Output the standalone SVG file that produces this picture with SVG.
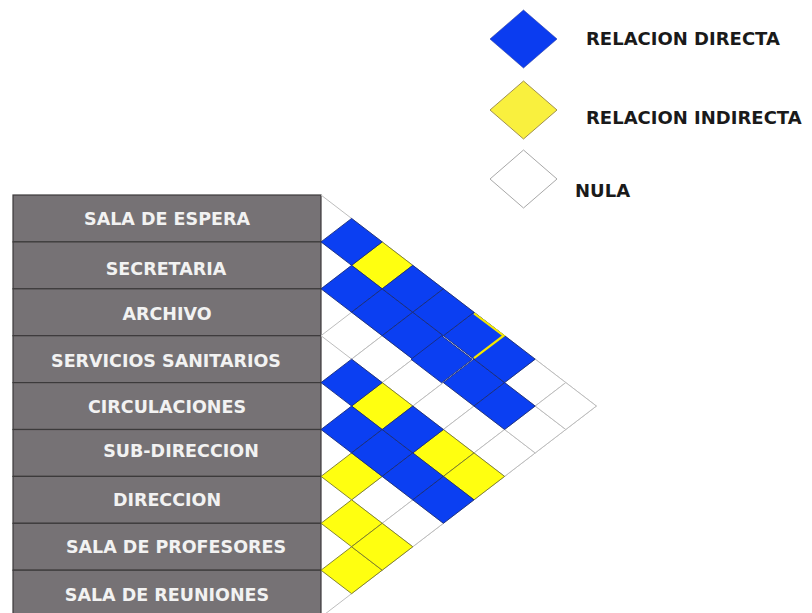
<svg xmlns="http://www.w3.org/2000/svg" xmlns:xlink="http://www.w3.org/1999/xlink" width="812" height="613" viewBox="0 0 812 613">
<style>
.box{fill:#767275;stroke:#3c3a3b;stroke-width:1.2}
.lbl{font-family:"DejaVu Sans","Liberation Sans",sans-serif;font-weight:bold;font-size:17.5px;fill:#f2f2f2;text-anchor:middle}
.leg{font-family:"DejaVu Sans","Liberation Sans",sans-serif;font-weight:bold;font-size:18px;fill:#1a1a1a}
.b{fill:#0b3ff2;stroke:#1a2c7a;stroke-width:0.9}
.y{fill:#ffff10;stroke:#77772a;stroke-width:0.9}
.w{fill:#ffffff;stroke:#bdbdbd;stroke-width:1}
.grid{fill:none;stroke:#bdbdbd;stroke-width:1}
</style>
<defs>
<path id="d" d="M-30.6 0 L0 -23.45 L30.6 0 L0 23.45Z"/>
</defs>
<rect width="812" height="613" fill="#ffffff"/>

<g id="legend">
<g id="legend-directa">
<path d="M490 39 L523.5 10 L557 39 L523.5 68Z" fill="#0b3cf0" stroke="#2a3ca0" stroke-width="0.6"/>
<text class="leg" x="586" y="45">RELACION DIRECTA</text>
</g>
<g id="legend-indirecta">
<path d="M490 110 L523.5 81 L557 110 L523.5 139Z" fill="#f9f03e" stroke="#a09050" stroke-width="1"/>
<text class="leg" x="586" y="124">RELACION INDIRECTA</text>
</g>
<g id="legend-nula">
<path d="M490 179 L523.5 150 L557 179 L523.5 208Z" fill="#ffffff" stroke="#a8a8a8" stroke-width="1"/>
<text class="leg" x="575" y="197">NULA</text>
</g>
</g>

<g id="labels">
<g id="row-sala-espera"><rect class="box" x="13" y="195" width="308" height="46.9"/><text class="lbl" x="167" y="225">SALA DE ESPERA</text></g>
<g id="row-secretaria"><rect class="box" x="13" y="241.9" width="308" height="46.9"/><text class="lbl" x="166" y="274.5">SECRETARIA</text></g>
<g id="row-archivo"><rect class="box" x="13" y="288.8" width="308" height="46.9"/><text class="lbl" x="167" y="320">ARCHIVO</text></g>
<g id="row-servicios"><rect class="box" x="13" y="335.7" width="308" height="46.9"/><text class="lbl" x="166" y="367">SERVICIOS SANITARIOS</text></g>
<g id="row-circulaciones"><rect class="box" x="13" y="382.6" width="308" height="46.9"/><text class="lbl" x="167" y="413">CIRCULACIONES</text></g>
<g id="row-subdireccion"><rect class="box" x="13" y="429.5" width="308" height="46.9"/><text class="lbl" x="181" y="457">SUB-DIRECCION</text></g>
<g id="row-direccion"><rect class="box" x="13" y="476.4" width="308" height="46.9"/><text class="lbl" x="167" y="506">DIRECCION</text></g>
<g id="row-profesores"><rect class="box" x="13" y="523.3" width="308" height="46.9"/><text class="lbl" x="176" y="552.5">SALA DE PROFESORES</text></g>
<g id="row-reuniones"><rect class="box" x="13" y="570.2" width="308" height="46.9"/><text class="lbl" x="167" y="600.5">SALA DE REUNIONES</text></g>
</g>

<g id="matrix">
<polyline class="grid" points="321,195 596.4,406.05 321,617.1"/>
<!-- nula -->
<use href="#d" class="w" x="351.6" y="335.7"/>
<use href="#d" class="w" x="382.2" y="359.15"/>
<use href="#d" class="w" x="382.2" y="499.85"/>
<use href="#d" class="w" x="412.8" y="382.6"/>
<use href="#d" class="w" x="412.8" y="523.3"/>
<use href="#d" class="w" x="443.4" y="406.05"/>
<use href="#d" class="w" x="474" y="429.5"/>
<use href="#d" class="w" x="504.6" y="452.95"/>
<use href="#d" class="w" x="535.2" y="382.6"/>
<use href="#d" class="w" x="535.2" y="429.5"/>
<use href="#d" class="w" x="565.8" y="406.05"/>
<!-- indirecta -->
<use href="#d" class="y" x="351.6" y="476.4"/>
<use href="#d" class="y" x="351.6" y="523.3"/>
<use href="#d" class="y" x="351.6" y="570.2"/>
<use href="#d" class="y" x="382.2" y="265.35"/>
<use href="#d" class="y" x="382.2" y="406.05"/>
<use href="#d" class="y" x="382.2" y="546.75"/>
<use href="#d" class="y" x="443.4" y="452.95"/>
<use href="#d" class="y" x="474" y="476.4"/>
<!-- directa -->
<use href="#d" class="b" x="351.6" y="241.9"/>
<use href="#d" class="b" x="351.6" y="288.8"/>
<use href="#d" class="b" x="351.6" y="382.6"/>
<use href="#d" class="b" x="351.6" y="429.5"/>
<use href="#d" class="b" x="382.2" y="312.25"/>
<use href="#d" class="b" x="382.2" y="452.95"/>
<use href="#d" class="b" x="412.8" y="288.8"/>
<use href="#d" class="b" x="412.8" y="335.7"/>
<use href="#d" class="b" x="412.8" y="429.5"/>
<use href="#d" class="b" x="412.8" y="476.4"/>
<use href="#d" class="b" x="474" y="335.7"/>
<use href="#d" class="b" x="474" y="382.6"/>
<use href="#d" class="b" x="443.4" y="499.85"/>
<use href="#d" class="b" x="504.6" y="359.15"/>
<use href="#d" class="b" x="504.6" y="406.05"/>
<use href="#d" class="b" x="441.6" y="359.3"/>
<use href="#d" class="b" x="443.4" y="312.25"/>
<polyline points="474,313.3 503.6,335.7 474,358.2" fill="none" stroke="#f5e800" stroke-width="2.2"/>
</g>
</svg>
